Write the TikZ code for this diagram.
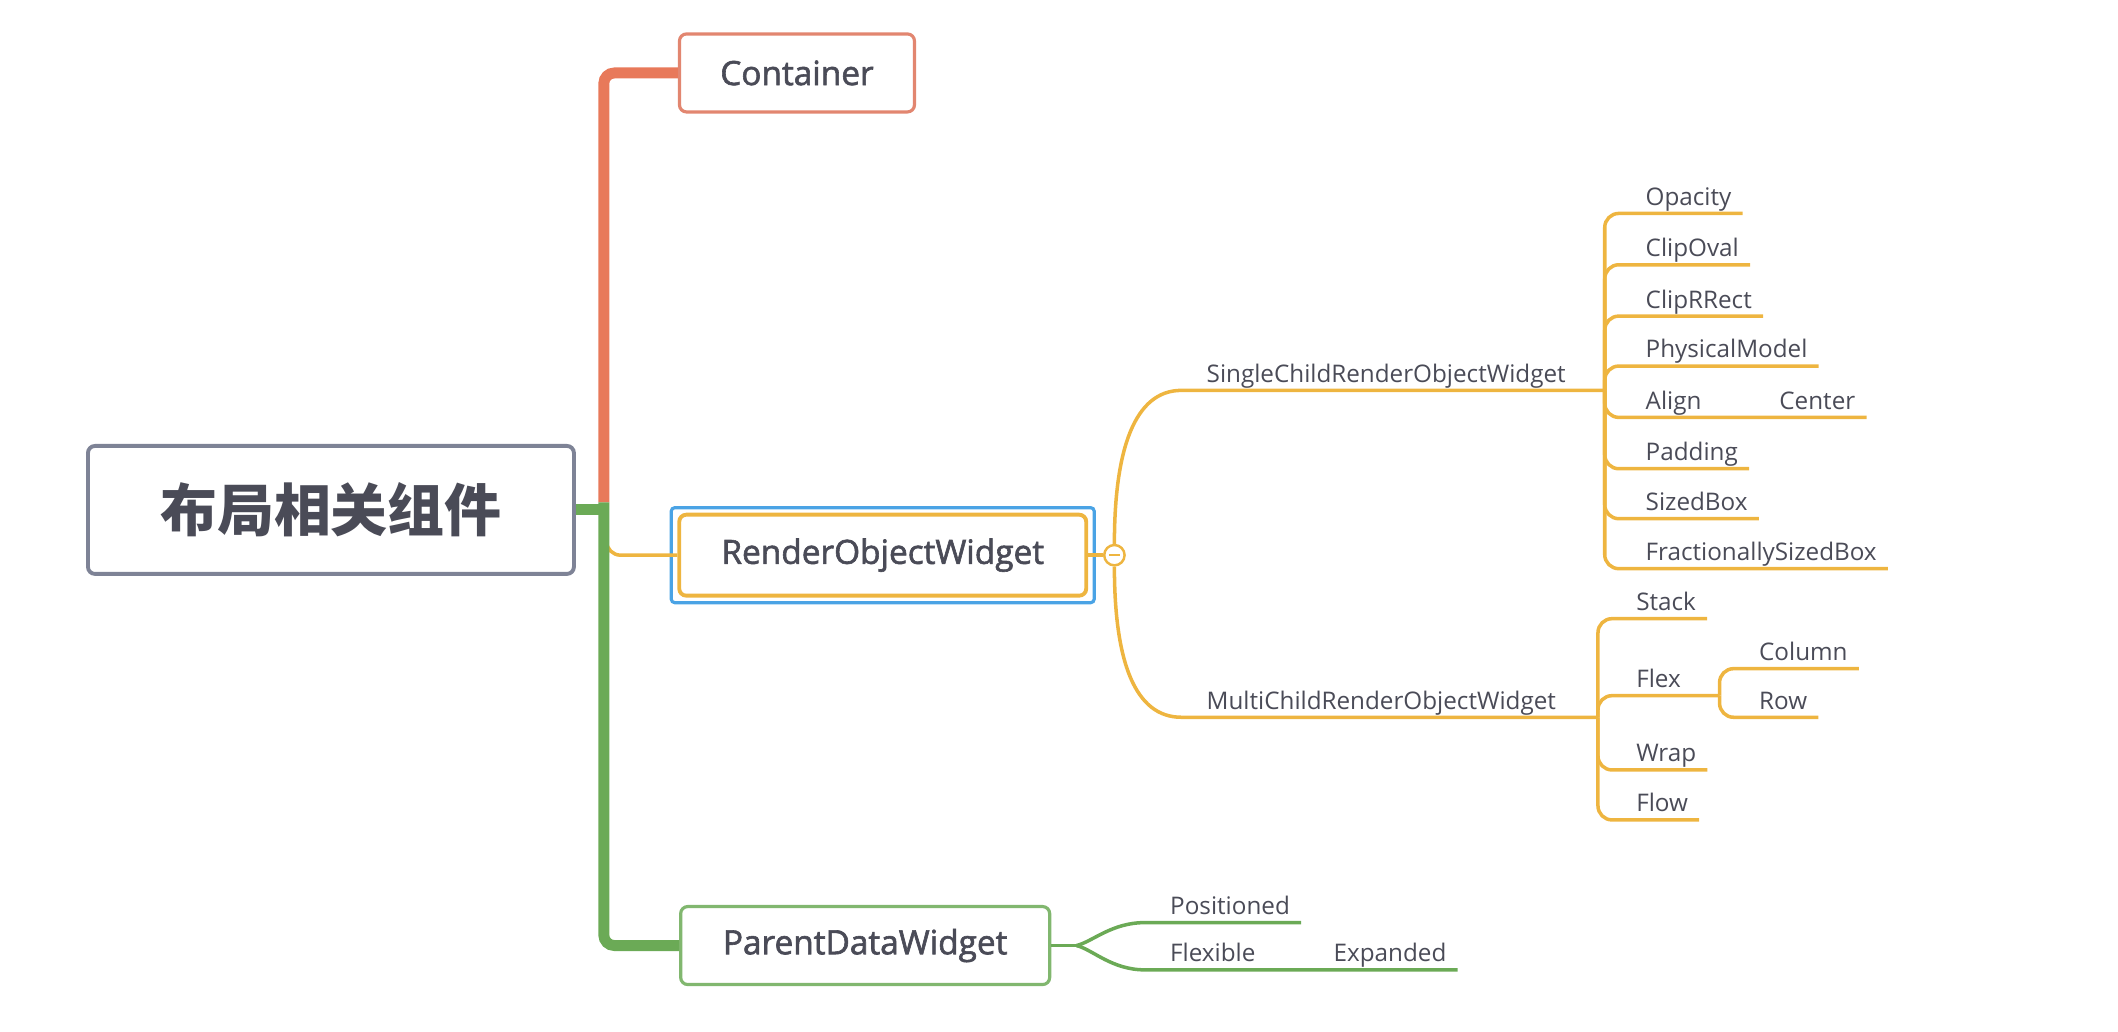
\documentclass[tikz,border=0pt]{standalone}
\usepackage{fontspec}
\setmainfont{Open Sans}
\newfontfamily\cjk{Noto Sans CJK SC}
\newfontfamily\boxfont{Open Sans}[FakeBold=1.8]
\definecolor{txtc}{HTML}{4A4B57}
\definecolor{redt}{HTML}{E8795A}
\definecolor{redb}{HTML}{E28670}
\definecolor{greent}{HTML}{6BAA56}
\definecolor{yelt}{HTML}{EEB540}
\definecolor{selb}{HTML}{4AA3E5}
\definecolor{rootc}{HTML}{7E8396}
\begin{document}
\begin{tikzpicture}[x=0.13508mm, y=-0.13508mm,
    rootbox/.style={draw=rootc, line width=1.1pt, rounded corners=2pt, fill=white,
      minimum width=48.6mm, minimum height=12.8mm, text=txtc,
      font=\cjk\bfseries\fontsize{16.2}{18}\selectfont},
    topic/.style={line width=0.9pt, rounded corners=2pt, fill=white,
      minimum height=7.8mm, text=txtc, font=\boxfont\fontsize{9.5}{11}\selectfont},
    leaf/.style={anchor=south west, inner xsep=3pt, inner ysep=0.8pt,
      text depth=1.3pt, text=txtc, font=\fontsize{6.9}{8}\selectfont},
    trunk/.style={line width=3.1pt, rounded corners=3pt},
    ybr/.style={draw=yelt, line width=1pt, rounded corners=4pt},
    gbr/.style={draw=greent, line width=1pt, rounded corners=4pt}]
  \useasboundingbox (0,0) rectangle (1568,764);

  % main topics
  \node[rootbox] (root) at (245,377.5) {布局相关组件};
  \node[topic, draw=redb, minimum width=23.5mm] (ct) at (590,54) {Container};
  \node[draw=selb, line width=0.9pt, rounded corners=1pt, minimum width=42.3mm,
    minimum height=9.5mm] (rwsel) at (653.5,411) {};
  \node[topic, draw=yelt, line width=1.1pt, minimum width=40.7mm, minimum height=8.1mm]
    (rw) at (653.5,411) {RenderObjectWidget};
  \node[topic, draw=greent!85!white, minimum width=36.9mm] (pd) at (640.5,700) {ParentDataWidget};
  \coordinate (jn) at (447,372);
  \coordinate (jr) at (451,377.5);
  \coordinate (rjn) at (449,398);

  % trunk
  \draw[ybr] (rjn) |- (rw.west);
  \draw[trunk, draw=redt] (jn) |- (ct.west);
  \draw[trunk, draw=greent] (jn) |- (pd.west);
  \draw[line width=3.1pt, draw=greent] (root.east) -- (jr);

  % RenderObjectWidget branch
  \node[circle, draw=yelt, fill=white, line width=0.7pt, inner sep=0pt,
    minimum size=5.8pt] (tog) at (825,411) {};
  \draw[yelt, line width=0.6pt] ([xshift=-1.6pt]tog.center) -- ([xshift=1.6pt]tog.center);
  \draw[ybr] (rw.east) -- (tog.west);
  \node[leaf] (sc) at (885,289) {SingleChildRenderObjectWidget};
  \node[leaf] (mc) at (885,531) {MultiChildRenderObjectWidget};
  \coordinate (sfork) at (1188,289);
  \coordinate (mfork) at (1183,531);
  \draw[ybr] (tog.north) .. controls +(0,-70) and +(-45,0) .. (sc.south west) -- (sfork);
  \draw[ybr] (tog.south) .. controls +(0,70) and +(-45,0) .. (mc.south west) -- (mfork);

  \node[leaf] (op) at (1210,158) {Opacity};
  \node[leaf] (co) at (1210,196) {ClipOval};
  \node[leaf] (cr) at (1210,234) {ClipRRect};
  \node[leaf] (pm) at (1210,271) {PhysicalModel};
  \node[leaf] (al) at (1210,309) {Align};
  \node[leaf] (ce) at (1309,309) {Center};
  \node[leaf] (pa) at (1210,347) {Padding};
  \node[leaf] (sb) at (1210,384) {SizedBox};
  \node[leaf] (fs) at (1210,421) {FractionallySizedBox};
  \draw[ybr] (sfork) |- (op.south east);
  \draw[ybr] (sfork) |- (co.south east);
  \draw[ybr] (sfork) |- (cr.south east);
  \draw[ybr] (sfork) |- (pm.south east);
  \draw[ybr] (sfork) |- (al.south east) -- (ce.south east);
  \draw[ybr] (sfork) |- (pa.south east);
  \draw[ybr] (sfork) |- (sb.south east);
  \draw[ybr] (sfork) |- (fs.south east);

  \node[leaf] (st) at (1203,458) {Stack};
  \node[leaf] (fx) at (1203,515) {Flex};
  \node[leaf] (cl) at (1294,495) {Column};
  \node[leaf] (ro) at (1294,531) {Row};
  \node[leaf] (wr) at (1203,570) {Wrap};
  \node[leaf] (fl) at (1203,607) {Flow};
  \coordinate (ffork) at (1273,515);
  \draw[ybr] (mfork) |- (st.south east);
  \draw[ybr] (mfork) |- (ffork);
  \draw[ybr] (ffork) |- (cl.south east);
  \draw[ybr] (ffork) |- (ro.south east);
  \draw[ybr] (mfork) |- (wr.south east);
  \draw[ybr] (mfork) |- (fl.south east);

  % ParentDataWidget branch
  \coordinate (pfork) at (797,700);
  \node[leaf] (ps) at (858,683) {Positioned};
  \node[leaf] (fb) at (858,718) {Flexible};
  \node[leaf] (ex) at (979,718) {Expanded};
  \draw[gbr] (pd.east) -- (pfork);
  \draw[gbr] (pfork) .. controls +(12,-3) and +(-35,0) .. (ps.south west) -- (ps.south east);
  \draw[gbr] (pfork) .. controls +(12,3) and +(-35,0) .. (fb.south west) -- (ex.south east);
\end{tikzpicture}
\end{document}
